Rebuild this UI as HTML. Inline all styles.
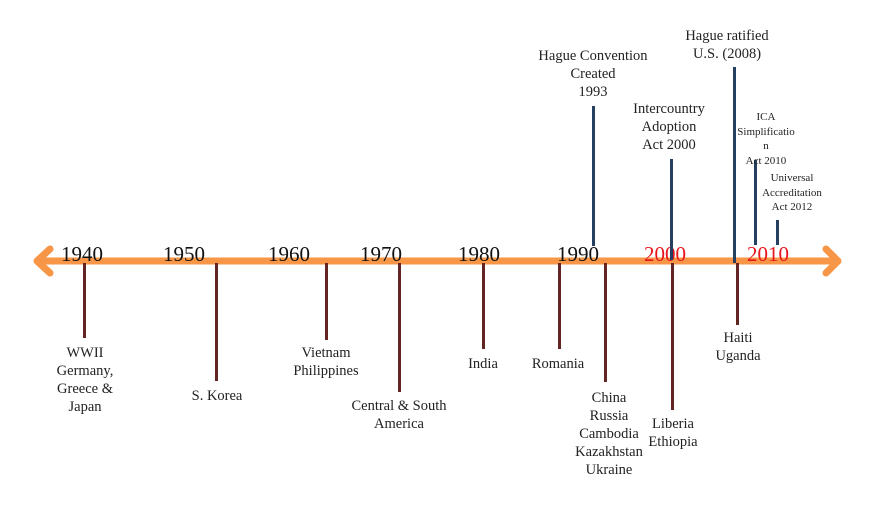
<!DOCTYPE html>
<html><head><meta charset="utf-8"><style>
body{margin:0;width:881px;height:522px;background:#fff;position:relative;overflow:hidden;font-family:"Liberation Serif",serif;}
.l{position:absolute;width:3px;}
.m{background:#632523;}
.b{background:#243f60;}
.t{position:absolute;text-align:center;font-size:14.5px;line-height:18px;color:#222;transform:translateX(-50%);white-space:nowrap;}
.y{position:absolute;font-size:21px;line-height:21px;transform:translateX(-50%);color:#111;}
.r{color:#e8141b;}
</style></head><body>
<svg width="881" height="522" style="position:absolute;left:0;top:0">
<line x1="40" y1="261" x2="836" y2="261" stroke="#f79646" stroke-width="7"/>
<polyline points="50,249 37,261 50,273" fill="none" stroke="#f79646" stroke-width="7" stroke-linecap="round" stroke-linejoin="round"/>
<polyline points="826,249 838,261 826,273" fill="none" stroke="#f79646" stroke-width="7" stroke-linecap="round" stroke-linejoin="round"/>
</svg>
<div class="y" style="left:82px;top:244px">1940</div>
<div class="y" style="left:184px;top:244px">1950</div>
<div class="y" style="left:289px;top:244px">1960</div>
<div class="y" style="left:381px;top:244px">1970</div>
<div class="y" style="left:479px;top:244px">1980</div>
<div class="y" style="left:578px;top:244px">1990</div>
<div class="y r" style="left:665px;top:244px">2000</div>
<div class="y r" style="left:768px;top:244px">2010</div>

<div class="l m" style="left:83px;top:263px;height:75px"></div>
<div class="l m" style="left:215px;top:263px;height:118px"></div>
<div class="l m" style="left:325px;top:263px;height:77px"></div>
<div class="l m" style="left:398px;top:263px;height:129px"></div>
<div class="l m" style="left:482px;top:263px;height:86px"></div>
<div class="l m" style="left:558px;top:263px;height:86px"></div>
<div class="l m" style="left:604px;top:263px;height:119px"></div>
<div class="l m" style="left:671px;top:263px;height:147px"></div>
<div class="l m" style="left:736px;top:263px;height:62px"></div>

<div class="l b" style="left:592px;top:106px;height:140px"></div>
<div class="l b" style="left:670px;top:159px;height:101px"></div>
<div class="l b" style="left:733px;top:67px;height:196px"></div>
<div class="l b" style="left:754px;top:160px;height:85px"></div>
<div class="l b" style="left:776px;top:220px;height:25px"></div>

<div class="t" style="left:85px;top:344px">WWII<br>Germany,<br>Greece &amp;<br>Japan</div>
<div class="t" style="left:217px;top:387px">S. Korea</div>
<div class="t" style="left:326px;top:344px">Vietnam<br>Philippines</div>
<div class="t" style="left:399px;top:397px">Central &amp; South<br>America</div>
<div class="t" style="left:483px;top:355px">India</div>
<div class="t" style="left:558px;top:355px">Romania</div>
<div class="t" style="left:609px;top:389px">China<br>Russia<br>Cambodia<br>Kazakhstan<br>Ukraine</div>
<div class="t" style="left:673px;top:415px">Liberia<br>Ethiopia</div>
<div class="t" style="left:738px;top:329px">Haiti<br>Uganda</div>

<div class="t" style="left:593px;top:47px">Hague Convention<br>Created<br>1993</div>
<div class="t" style="left:669px;top:100px">Intercountry<br>Adoption<br>Act 2000</div>
<div class="t" style="left:727px;top:27px">Hague ratified<br>U.S. (2008)</div>
<div class="t" style="left:766px;top:110px;font-size:11px;line-height:14.5px">ICA<br>Simplificatio<br>n<br>Act 2010</div>
<div class="t" style="left:792px;top:171px;font-size:11px;line-height:14.5px">Universal<br>Accreditation<br>Act 2012</div>
</body></html>
